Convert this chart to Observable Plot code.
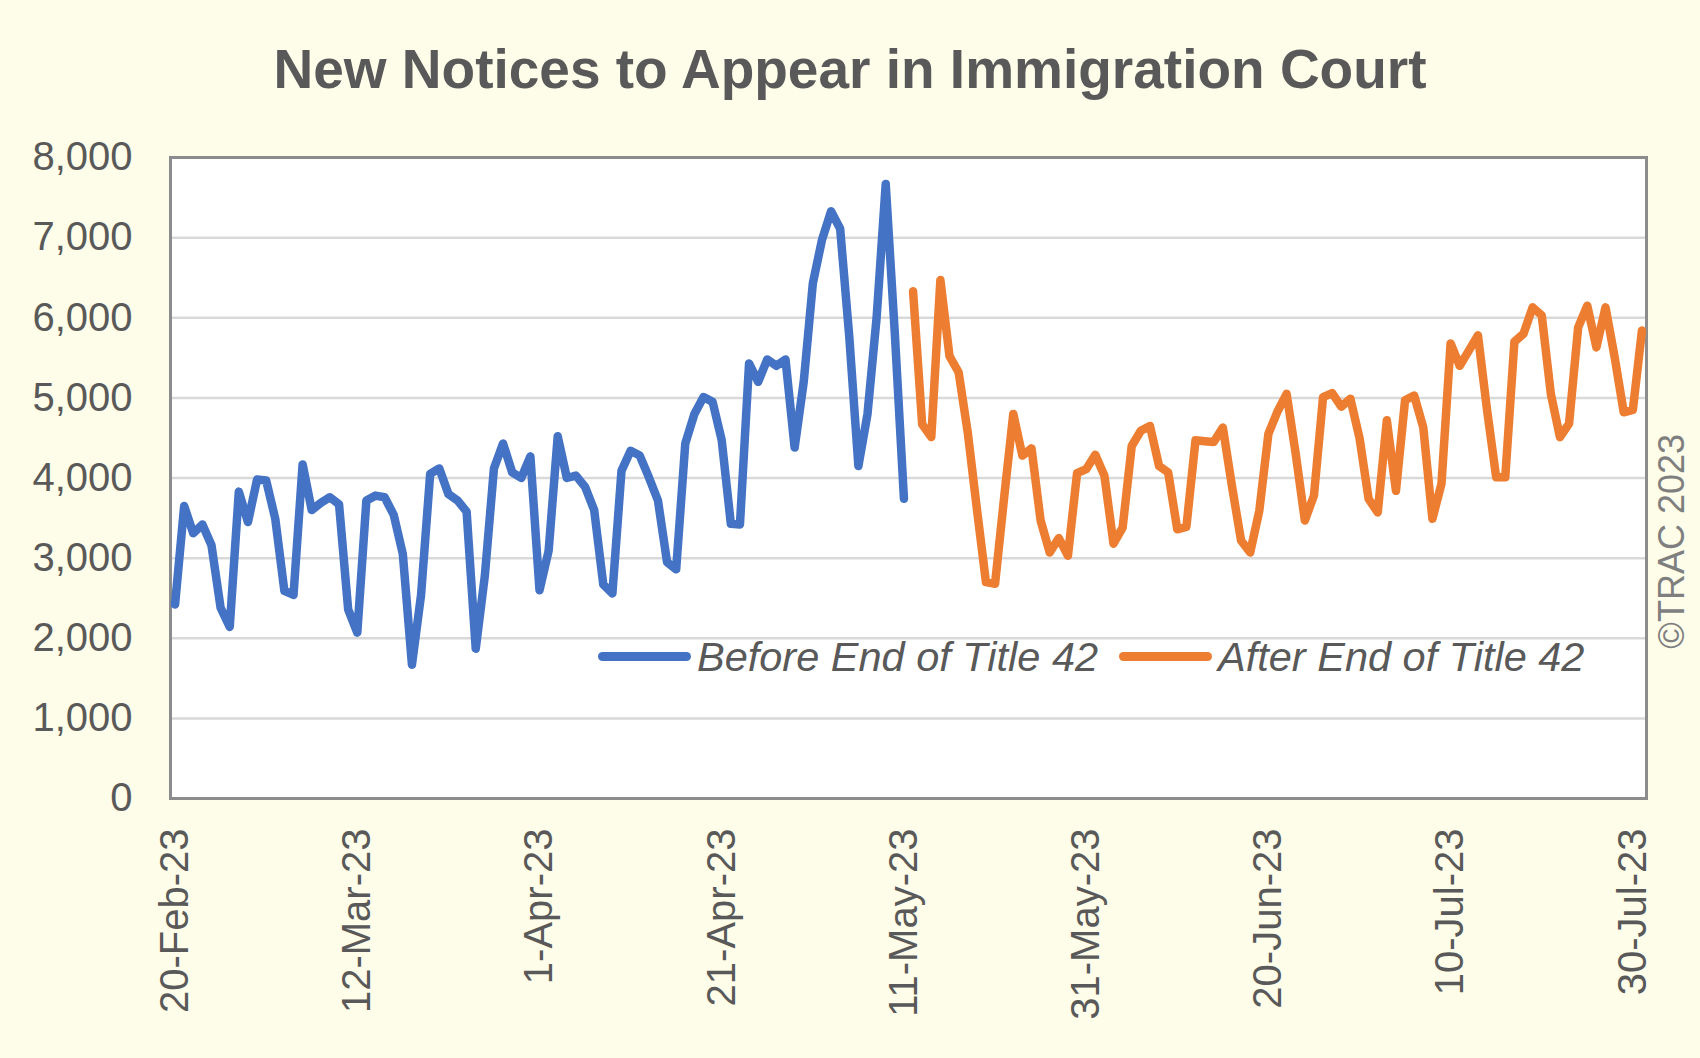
<!DOCTYPE html>
<html><head><meta charset="utf-8">
<script src="https://cdn.jsdelivr.net/npm/d3@7"></script>
<script src="https://cdn.jsdelivr.net/npm/@observablehq/plot@0.6"></script>
<style>
html,body{margin:0;padding:0;background:#FEFDE9;}
#wrap{position:relative;width:1700px;height:1058px;overflow:hidden;font-family:"Liberation Sans",Arial,sans-serif;}
#title{height:120px;position:relative;}
#title span{position:absolute;left:0;right:0;top:42px;text-align:center;font-weight:bold;font-size:55px;line-height:55px;color:#595959;white-space:nowrap;}
#legend{position:absolute;left:598px;top:636px;height:41px;line-height:41px;display:flex;align-items:center;font-style:italic;font-size:41.5px;color:#595959;white-space:nowrap;}
#legend .sw{width:93px;height:9px;border-radius:4.5px;margin-right:6px;flex:none;}
#legend .item{display:flex;align-items:center;margin-right:21px;}
#chart svg{display:block;}
</style></head>
<body><div id="wrap"><div id="title"><span></span></div><div id="chart"></div><div id="legend"></div></div>
<script>
const titleText = "New Notices to Appear in Immigration Court";
const seriesNames = ["Before End of Title 42", "After End of Title 42"];
const seriesColors = ["#4472C4", "#ED7D31"];
const credit = "©TRAC 2023";

// daily values, 20-Feb-23 .. 11-May-23
const beforeStart = "2023-02-20";
const beforeValues = [
  2420, 3650, 3310, 3420, 3160, 2380, 2140,
  3830, 3450, 3980, 3970, 3490, 2590, 2540,
  4170, 3600, 3690, 3760, 3670, 2360, 2070,
  3720, 3780, 3760, 3540, 3050, 1670, 2540,
  4050, 4120, 3800, 3720, 3580, 1870, 2780,
  4120, 4430, 4070, 4000, 4270, 2600, 3090,
  4520, 4000, 4030, 3890, 3600, 2670, 2560,
  4090, 4340, 4280, 4010, 3720, 2950, 2860,
  4430, 4800, 5010, 4950, 4470, 3430, 3420,
  5430, 5200, 5480, 5400, 5480, 4380, 5200,
  6430, 6970, 7330, 7110, 5760, 4150, 4800,
  6000, 7670, 5800, 3740
];

// daily values, 12-May-23 .. 31-Jul-23
const afterStart = "2023-05-12";
const afterValues = [
  6330, 4670, 4510,
  6470, 5520, 5320, 4570, 3620, 2700, 2680,
  3760, 4800, 4280, 4370, 3470, 3070, 3250,
  3030, 4060, 4110, 4290, 4030, 3180, 3380,
  4400, 4590, 4650, 4150, 4070, 3360, 3390,
  4470, 4460, 4450, 4630, 3900, 3220, 3070,
  3590, 4550, 4830, 5050, 4300, 3470, 3780,
  5010, 5060, 4890, 4990, 4500, 3740, 3570,
  4720, 3840, 4970, 5030, 4630, 3490, 3930,
  5680, 5400, 5590, 5780, 4850, 4010, 4010,
  5700, 5800, 6130, 6030, 5050, 4510, 4680,
  5880, 6150, 5630, 6130, 5510, 4820, 4850,
  5840
];

const xTickDates = ["2023-02-20","2023-03-12","2023-04-01","2023-04-21","2023-05-11","2023-05-31","2023-06-20","2023-07-10","2023-07-30"];
const yTicks = [0, 1000, 2000, 3000, 4000, 5000, 6000, 7000, 8000];

const parse = d3.utcParse("%Y-%m-%d");
const rows = [];
beforeValues.forEach((v, i) => rows.push({date: d3.utcDay.offset(parse(beforeStart), i), value: v, series: seriesNames[0]}));
afterValues.forEach((v, i) => rows.push({date: d3.utcDay.offset(parse(afterStart), i), value: v, series: seriesNames[1]}));
const firstDate = rows[0].date;
const lastDate = rows[rows.length - 1].date;

document.querySelector("#title span").textContent = titleText;

const chart = Plot.plot({
  width: 1700,
  height: 938,
  marginTop: 37,
  marginBottom: 260,
  marginLeft: 170,
  marginRight: 54,
  style: {background: "transparent", fontFamily: "'Liberation Sans', Arial, sans-serif", color: "#595959", overflow: "visible"},
  x: {type: "utc", domain: [d3.utcHour.offset(firstDate, -12), d3.utcHour.offset(lastDate, 12)]},
  y: {domain: [0, 8000]},
  color: {domain: seriesNames, range: seriesColors},
  marks: [
    Plot.frame({fill: "white", stroke: null}),
    Plot.gridY(yTicks, {stroke: "#D9D9D9", strokeOpacity: 1, strokeWidth: 2.5}),
    Plot.frame({stroke: "#8C8C8C", strokeWidth: 3}),
    Plot.lineY(rows, {x: "date", y: "value", z: "series", stroke: "series", strokeWidth: 8.5, strokeLinejoin: "round", strokeLinecap: "round"}),
    Plot.axisY({ticks: yTicks, tickFormat: d3.format(","), tickSize: 0, tickPadding: 38, fontSize: 40, label: null}),
    Plot.axisX({ticks: xTickDates.map(parse), tickFormat: d3.utcFormat("%-d-%b-%y"), tickRotate: -90, tickSize: 0, tickPadding: 30, fontSize: 40, label: null}),
    Plot.text([credit], {frameAnchor: "right", dx: 26, dy: -44, rotate: -90, fontSize: 36, fill: "#7F7F7F"})
  ]
});
document.getElementById("chart").appendChild(chart);

const legend = document.getElementById("legend");
seriesNames.forEach((name, i) => {
  const item = document.createElement("div");
  item.className = "item";
  const sw = document.createElement("div");
  sw.className = "sw";
  sw.style.background = seriesColors[i];
  const label = document.createElement("span");
  label.textContent = name;
  item.appendChild(sw);
  item.appendChild(label);
  legend.appendChild(item);
});
</script>
</body></html>
